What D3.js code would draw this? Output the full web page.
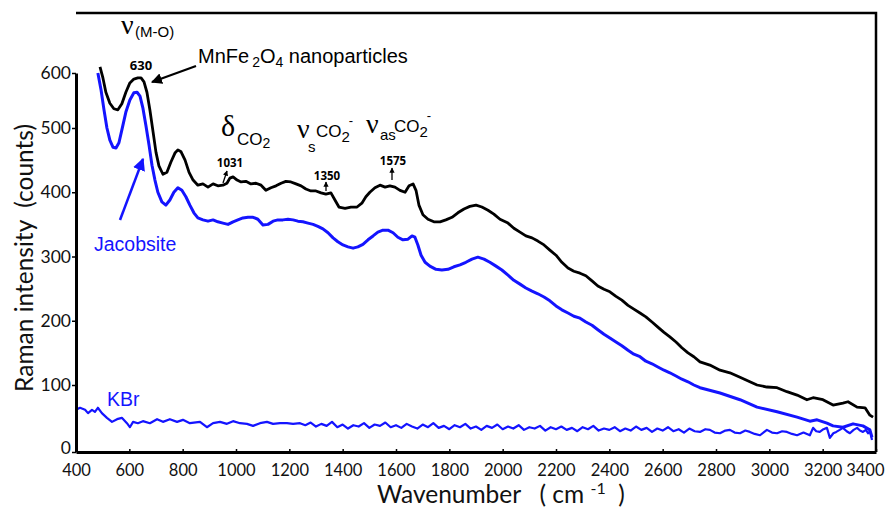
<!DOCTYPE html>
<html><head><meta charset="utf-8">
<script src="https://cdn.jsdelivr.net/npm/d3@7"></script>
<style>body{margin:0;background:#fff}svg{display:block}</style>
</head><body>
<svg id="chart" width="888" height="507"></svg>
<script>
// ---------- data ----------
const xTicks = [400,600,800,1000,1200,1400,1600,1800,2000,2200,2400,2600,2800,3000,3200,3400];
const yTicks = [0,100,200,300,400,500,600];

// MnFe2O4 nanoparticles (black) : [wavenumber, counts]
const mnfe = [
[490,611],[501,591],[512,565],[527,545],[542,535],[557,533],[572,544],[587,565],[602,582],[617,589],[632,591],[644,591],[655,584],[666,565],[677,533],[689,494],[700,462],[711,441],[726,428],[741,431],[756,447],[771,461],[782,466],[794,463],[809,450],[824,431],[839,419],[857,411],[876,413],[895,408],[914,413],[932,410],[951,411],[966,414],[977,422],[989,424],[1004,419],[1019,416],[1037,417],[1056,413],[1075,414],[1094,411],[1112,403],[1131,407],[1150,410],[1169,414],[1187,417],[1206,416],[1225,413],[1244,410],[1262,405],[1281,402],[1300,402],[1319,399],[1337,397],[1356,399],[1371,388],[1386,377],[1409,375],[1431,377],[1454,377],[1472,383],[1487,393],[1502,400],[1521,407],[1540,411],[1559,408],[1577,410],[1596,408],[1615,403],[1634,400],[1649,410],[1664,413],[1675,403],[1686,380],[1701,365],[1720,358],[1742,354],[1765,354],[1787,357],[1810,361],[1832,368],[1855,374],[1877,378],[1900,380],[1922,377],[1945,372],[1967,366],[1990,358],[2020,352],[2042,344],[2065,338],[2087,332],[2110,329],[2132,324],[2155,318],[2177,310],[2200,302],[2222,291],[2245,282],[2267,277],[2290,274],[2312,270],[2335,262],[2357,254],[2380,249],[2402,245],[2425,238],[2447,232],[2470,224],[2492,218],[2515,212],[2537,206],[2560,198],[2582,190],[2605,182],[2627,175],[2650,167],[2672,158],[2695,150],[2717,144],[2740,136],[2777,131],[2815,123],[2852,119],[2890,112],[2927,105],[2954,100],[2991,97],[3029,96],[3066,90],[3104,85],[3141,78],[3164,81],[3201,78],[3239,70],[3276,73],[3295,75],[3329,67],[3359,66],[3377,55],[3389,52]
];

// Jacobsite (blue)
const jacobsite = [
[482,600],[494,569],[505,533],[516,500],[527,481],[539,470],[550,469],[561,477],[572,497],[587,529],[602,551],[617,564],[629,565],[640,558],[651,536],[662,505],[674,473],[685,442],[696,419],[707,400],[722,385],[737,380],[752,388],[767,400],[782,407],[797,403],[812,393],[827,380],[842,368],[857,360],[876,357],[895,355],[914,357],[932,354],[951,352],[970,350],[989,354],[1007,357],[1026,360],[1045,361],[1064,361],[1082,358],[1101,349],[1120,350],[1139,355],[1157,357],[1176,357],[1195,358],[1214,357],[1232,355],[1251,354],[1270,352],[1289,350],[1307,347],[1326,343],[1345,337],[1364,329],[1382,323],[1401,318],[1420,315],[1439,313],[1457,315],[1476,319],[1495,326],[1514,332],[1532,338],[1551,341],[1570,341],[1589,337],[1607,330],[1626,326],[1645,327],[1660,332],[1671,330],[1682,318],[1694,302],[1709,291],[1727,285],[1750,280],[1772,279],[1795,280],[1817,284],[1840,287],[1862,291],[1885,296],[1907,299],[1930,296],[1952,291],[1975,285],[1997,279],[2020,271],[2042,263],[2065,257],[2087,251],[2110,246],[2132,242],[2155,237],[2177,231],[2200,223],[2222,217],[2245,212],[2267,207],[2290,204],[2312,198],[2335,193],[2357,186],[2380,179],[2402,173],[2425,167],[2447,161],[2470,154],[2492,148],[2515,144],[2537,137],[2560,133],[2582,128],[2605,123],[2627,119],[2650,114],[2672,109],[2695,105],[2717,100],[2740,96],[2815,88],[2890,78],[2954,67],[3029,60],[3104,52],[3152,46],[3179,48],[3216,43],[3239,39],[3276,37],[3314,42],[3351,39],[3377,33],[3385,22]
];

// KBr (blue, noisy baseline)
const kbr = [
[400,63],[415,66],[434,63],[445,58],[460,63],[471,60],[482,66],[497,58],[516,51],[535,45],[554,49],[572,51],[591,43],[602,37],[614,45],[632,43],[651,46],[677,43],[704,49],[726,45],[752,49],[779,45],[801,48],[827,43],[865,45],[891,37],[914,43],[940,45],[966,42],[989,46],[1015,43],[1041,42],[1064,39],[1090,43],[1116,45],[1139,42],[1165,43],[1191,43],[1214,42],[1240,43],[1260,40],[1280,44],[1300,38],[1320,42],[1340,39],[1360,45],[1380,37],[1400,41],[1420,35],[1440,40],[1460,38],[1480,43],[1500,36],[1520,41],[1540,39],[1560,44],[1580,37],[1600,40],[1620,36],[1640,42],[1660,38],[1680,35],[1700,41],[1720,37],[1740,43],[1760,36],[1780,39],[1800,34],[1820,40],[1840,37],[1860,42],[1880,35],[1900,38],[1920,33],[1940,39],[1960,36],[1980,41],[2000,34],[2020,38],[2040,35],[2060,40],[2080,33],[2100,37],[2120,35],[2140,39],[2160,32],[2180,37],[2200,34],[2220,38],[2240,33],[2260,36],[2280,31],[2300,37],[2320,34],[2340,39],[2360,32],[2380,35],[2400,33],[2420,37],[2440,31],[2460,35],[2480,32],[2500,38],[2520,33],[2540,36],[2560,30],[2580,35],[2600,32],[2620,37],[2640,31],[2660,34],[2680,29],[2700,35],[2720,31],[2740,30],[2760,34],[2777,33],[2795,29],[2815,28],[2835,32],[2852,33],[2870,29],[2890,28],[2910,32],[2927,30],[2945,27],[2965,25],[2991,33],[3010,29],[3029,28],[3048,31],[3066,30],[3085,27],[3104,25],[3128,29],[3152,25],[3164,36],[3176,31],[3189,30],[3203,34],[3216,36],[3227,21],[3240,28],[3251,30],[3264,33],[3276,36],[3290,31],[3302,28],[3316,33],[3329,36],[3340,32],[3351,30],[3362,33],[3370,28],[3378,31],[3385,18]
];

// ---------- chart ----------
const svg = d3.select("#chart");
const x = d3.scaleLinear().domain([400,3400]).range([76,876]);
const y = d3.scaleLinear().domain([0,100,500,600]).range([452,385,128,73]);
const BLUE = "#1414ff";
const TICKFONT = "Lato, 'Open Sans', sans-serif";

const line = d3.line().x(d=>x(d[0])).y(d=>y(d[1]));

svg.append("path").datum(kbr).attr("d",line).attr("fill","none")
  .attr("stroke",BLUE).attr("stroke-width",2.2).attr("stroke-linejoin","round");
svg.append("path").datum(jacobsite).attr("d",line).attr("fill","none")
  .attr("stroke",BLUE).attr("stroke-width",3).attr("stroke-linejoin","round");
svg.append("path").datum(mnfe).attr("d",line).attr("fill","none")
  .attr("stroke","#000").attr("stroke-width",2.8).attr("stroke-linejoin","round");

// frame
svg.append("path").attr("d","M76,13H876V452").attr("fill","none").attr("stroke","#000").attr("stroke-width",2.5);

// axes
const xAxis = svg.append("g").attr("transform","translate(0,452)")
  .call(d3.axisBottom(x).tickValues(xTicks).tickFormat(d3.format("d"))
    .tickSizeInner(-3).tickSizeOuter(0).tickPadding(12));
xAxis.select(".domain").attr("stroke-width",3);
xAxis.selectAll(".tick line").attr("stroke-width",1.5);
xAxis.selectAll("text").attr("font-family",TICKFONT).attr("font-size",16.5).attr("fill","#111");
xAxis.selectAll(".tick").filter(d=>d===3400).select("text").attr("text-anchor","end").attr("dx",8);

const yAxis = svg.append("g").attr("transform","translate(76,0)")
  .call(d3.axisLeft(y).tickValues(yTicks).tickFormat(d3.format("d"))
    .tickSizeInner(4).tickSizeOuter(0).tickPadding(1));
yAxis.select(".domain").attr("stroke-width",3);
yAxis.selectAll(".tick line").attr("stroke-width",1.5);
yAxis.selectAll("text").attr("font-family",TICKFONT).attr("font-size",17.5).attr("fill","#111");
yAxis.selectAll(".tick").filter(d=>d===0).select("text").attr("dy","0.1em");

// axis titles
svg.append("text").attr("transform","translate(33,258) rotate(-90)")
  .attr("text-anchor","middle").attr("font-family",TICKFONT).attr("font-size",24.5).attr("fill","#111")
  .text("Raman intensity\u00a0\u00a0(counts)");
const xt = svg.append("text").attr("x",377).attr("y",503)
  .attr("font-family",TICKFONT).attr("font-size",24.5).attr("fill","#111");
xt.append("tspan").text("Wavenumber\u00a0\u00a0\u00a0( cm ");
xt.append("tspan").attr("dy",-9).attr("font-size",16).text("-1");
xt.append("tspan").attr("dy",9).text("\u00a0\u00a0)");

// arrow markers
const defs = svg.append("defs");
function marker(id,color,size){
  defs.append("marker").attr("id",id).attr("viewBox","0 0 10 10").attr("refX",9).attr("refY",5)
    .attr("markerWidth",size).attr("markerHeight",size).attr("orient","auto")
    .append("path").attr("d","M0,0L10,5L0,10Z").attr("fill",color);
}
marker("ak","#000",5); marker("ab",BLUE,5); marker("ak2","#000",4);

const SANS = "'Liberation Sans', Arial, sans-serif";
const SERIF = "'Liberation Serif', 'DejaVu Serif', serif";
const BOLD = "'Open Sans', sans-serif";

// nu(M-O)
svg.append("text").attr("x",121).attr("y",34).attr("font-family",SERIF).attr("font-size",28).text("\u03bd");
svg.append("text").attr("x",135).attr("y",37).attr("font-family",SANS).attr("font-size",15).text("(M-O)");
svg.append("text").attr("x",141).attr("y",70).attr("text-anchor","middle").attr("font-family",BOLD)
  .attr("font-weight","bold").attr("font-size",13).text("630");

// MnFe2O4 label
const mt = svg.append("text").attr("x",198).attr("y",63).attr("font-family",SANS).attr("font-size",20);
mt.append("tspan").text("MnFe");
mt.append("tspan").attr("dx",3).attr("dy",4).attr("font-size",14).text("2");
mt.append("tspan").attr("dy",-4).text("O");
mt.append("tspan").attr("dy",4).attr("font-size",14).text("4");
mt.append("tspan").attr("dy",-4).text(" nanoparticles");
svg.append("line").attr("x1",196).attr("y1",66).attr("x2",152).attr("y2",82)
  .attr("stroke","#000").attr("stroke-width",2.2).attr("marker-end","url(#ak)");

// delta CO2
svg.append("text").attr("x",221).attr("y",136).attr("font-family",SERIF).attr("font-size",30).text("\u03b4");
const dt = svg.append("text").attr("x",237).attr("y",145).attr("font-family",SANS).attr("font-size",17);
dt.append("tspan").text("CO");
dt.append("tspan").attr("dy",3).attr("font-size",14).text("2");
svg.append("text").attr("x",230).attr("y",167).attr("text-anchor","middle").attr("font-family",BOLD)
  .attr("font-weight","bold").attr("font-size",11.5).text("1031");
svg.append("line").attr("x1",223).attr("y1",183).attr("x2",227).attr("y2",171)
  .attr("stroke","#000").attr("stroke-width",1.3).attr("marker-end","url(#ak2)");

// nu_s CO2-
svg.append("text").attr("x",297).attr("y",138).attr("font-family",SERIF).attr("font-size",28).text("\u03bd");
svg.append("text").attr("x",308).attr("y",152).attr("font-family",SANS).attr("font-size",15).text("s");
const st = svg.append("text").attr("x",316).attr("y",137).attr("font-family",SANS).attr("font-size",17);
st.append("tspan").text("CO");
st.append("tspan").attr("dy",5).attr("font-size",15).text("2");
st.append("tspan").attr("dx",-1).attr("dy",-17).attr("font-size",13).text("-");
svg.append("text").attr("x",327).attr("y",180).attr("text-anchor","middle").attr("font-family",BOLD)
  .attr("font-weight","bold").attr("font-size",11.5).text("1350");
svg.append("line").attr("x1",326).attr("y1",191).attr("x2",326).attr("y2",182)
  .attr("stroke","#000").attr("stroke-width",1.3).attr("marker-end","url(#ak2)");

// nu_as CO2-
svg.append("text").attr("x",366).attr("y",133).attr("font-family",SERIF).attr("font-size",28).text("\u03bd");
svg.append("text").attr("x",380).attr("y",140).attr("font-family",SANS).attr("font-size",15).text("as");
const at = svg.append("text").attr("x",394).attr("y",132).attr("font-family",SANS).attr("font-size",17);
at.append("tspan").text("CO");
at.append("tspan").attr("dy",5).attr("font-size",15).text("2");
at.append("tspan").attr("dx",-1).attr("dy",-17).attr("font-size",13).text("-");
svg.append("text").attr("x",393).attr("y",165).attr("text-anchor","middle").attr("font-family",BOLD)
  .attr("font-weight","bold").attr("font-size",11.5).text("1575");
svg.append("line").attr("x1",392).attr("y1",180).attr("x2",392).attr("y2",168)
  .attr("stroke","#000").attr("stroke-width",1.3).attr("marker-end","url(#ak2)");

// Jacobsite label + arrow
svg.append("text").attr("x",94).attr("y",251).attr("font-family",SANS).attr("font-size",19.5).attr("fill",BLUE).text("Jacobsite");
svg.append("line").attr("x1",120).attr("y1",220).attr("x2",143).attr("y2",159)
  .attr("stroke",BLUE).attr("stroke-width",2.5).attr("marker-end","url(#ab)");

// KBr label
svg.append("text").attr("x",107).attr("y",406).attr("font-family",SANS).attr("font-size",19.5).attr("fill",BLUE).text("KBr");
</script>
</body></html>
